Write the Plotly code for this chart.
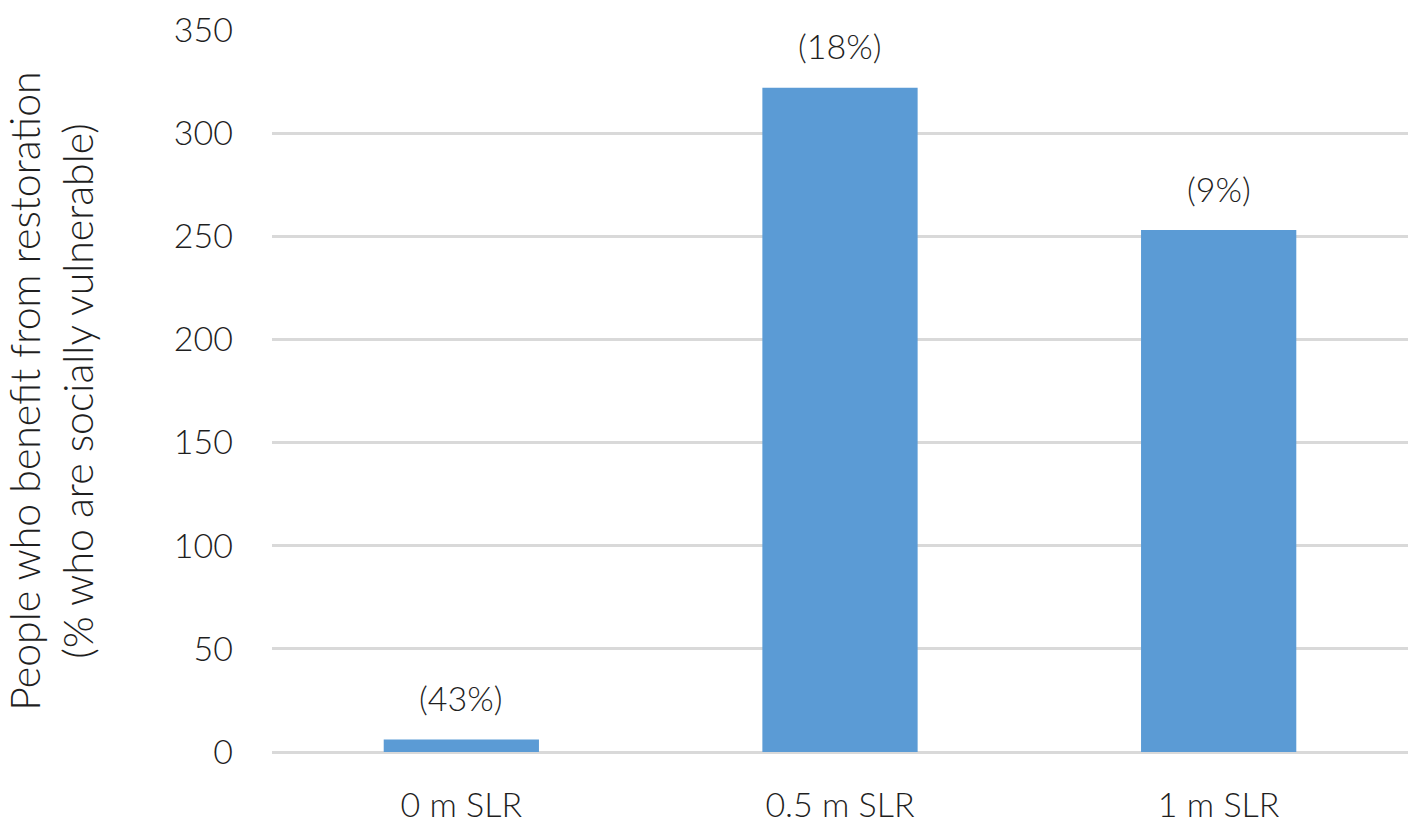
import plotly.graph_objects as go

categories = ["0 m SLR", "0.5 m SLR", "1 m SLR"]
people = [6, 322, 253]
pct_labels = ["(43%)", "(18%)", "(9%)"]
y_ticks = [0, 50, 100, 150, 200, 250, 300, 350]

FONT = "Lato"
TXT = "#1f1f1f"
fig = go.Figure()
fig.add_trace(go.Bar(x=categories, y=people, marker=dict(color="#5b9bd5", line=dict(width=0)),
                     width=0.41))
for c, v, t in zip(categories, people, pct_labels):
    fig.add_annotation(x=c, y=v, text=t, showarrow=False, yanchor="middle", yshift=42,
                       font=dict(family=FONT, size=34, color=TXT, weight=300))

fig.update_layout(
    width=1414, height=823,
    margin=dict(l=272, r=6, t=30, b=71, autoexpand=False),
    paper_bgcolor="white", plot_bgcolor="white",
    showlegend=False,
    font=dict(family=FONT, size=34, color=TXT, weight=300),
)
fig.update_xaxes(showgrid=False, showline=False, ticks="", automargin=False,
                 tickfont=dict(family=FONT, size=34, color=TXT, weight=300), ticklabelstandoff=30)
fig.update_yaxes(range=[0, 350], tickvals=y_ticks, showgrid=True, gridcolor="#d9d9d9", gridwidth=2.5,
                 zeroline=True, zerolinecolor="#d9d9d9", zerolinewidth=2.5, automargin=False,
                 showline=False, ticks="", tickfont=dict(family=FONT, size=34, color=TXT, weight=300),
                 ticklabelstandoff=38,
                 title=dict(text="People who benefit from restoration<br>(% who are socially vulnerable)",
                            font=dict(family=FONT, size=41, color=TXT, weight=300), standoff=70))

fig.write_html("out.html")
